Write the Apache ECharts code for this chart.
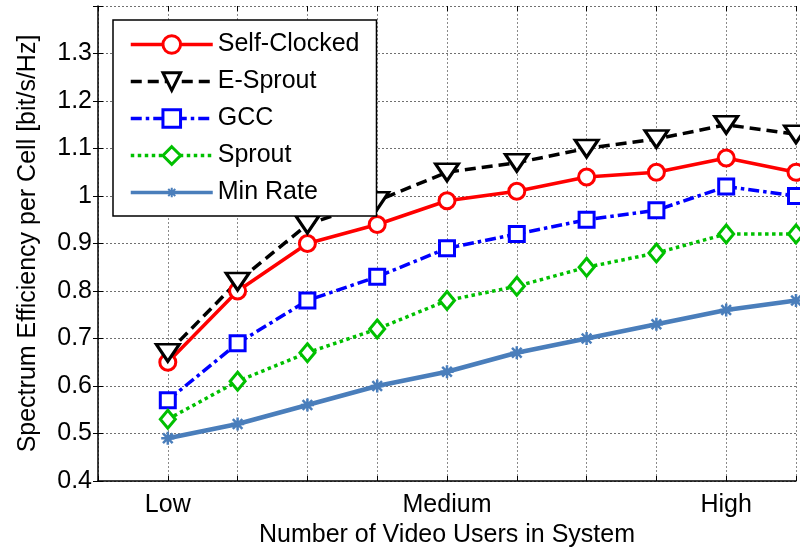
<!DOCTYPE html>
<html>
<head>
<meta charset="utf-8">
<script src="https://cdn.jsdelivr.net/npm/echarts@6/dist/echarts.min.js"></script>
<style>
  html, body { margin: 0; padding: 0; background: #fff; }
  #chart { width: 800px; height: 554px; }
</style>
</head>
<body>
<div id="chart"></div>
<script>
// Load levels on the x axis (positions 1..10)
const xPositions = [1, 2, 3, 4, 5, 6, 7, 8, 9, 10];
// Named tick labels along the x axis
const xTickValues = [1, 5, 9];
const xTickNames = ['Low', 'Medium', 'High'];
// Y tick labels from 0.4 up to 1.3
const yTickLabels = ['0.4', '0.5', '0.6', '0.7', '0.8', '0.9', '1', '1.1', '1.2', '1.3'];

// Spectrum efficiency per cell [bit/s/Hz]
const seriesNames = ['Self-Clocked', 'E-Sprout', 'GCC', 'Sprout', 'Min Rate'];
const selfClocked = [0.65, 0.80, 0.90, 0.94, 0.99, 1.01, 1.04, 1.05, 1.08, 1.05];
const eSprout     = [0.67, 0.82, 0.94, 0.99, 1.05, 1.07, 1.10, 1.12, 1.15, 1.13];
const gcc         = [0.57, 0.69, 0.78, 0.83, 0.89, 0.92, 0.95, 0.97, 1.02, 1.00];
const sprout      = [0.53, 0.61, 0.67, 0.72, 0.78, 0.81, 0.85, 0.88, 0.92, 0.92];
const minRate     = [0.49, 0.52, 0.56, 0.60, 0.63, 0.67, 0.70, 0.73, 0.76, 0.78];

const FONT = "'Liberation Sans', Arial, Helvetica, sans-serif";

function pairs(values) {
  return values.map((v, i) => [xPositions[i], v]);
}

// Marker shapes: downward triangle and a small asterisk (padded so it stays small)
const triDown = 'path://M0,0L24,0L12,19Z';
const asterisk = 'path://M0,0M20,20M10,4.5L10,15.5M4.5,10L15.5,10M6,6L14,14M6,14L14,6';

function lineSeries(name, values, color, dash, symbol, size, lineWidth) {
  return {
    name: name,
    type: 'line',
    data: pairs(values),
    symbol: symbol,
    symbolSize: size,
    showAllSymbol: true,
    lineStyle: { color: color, width: lineWidth, type: dash },
    itemStyle: { color: '#fff', borderColor: color, borderWidth: 3 },
    emphasis: { disabled: true },
    z: 2
  };
}

const series = [
  lineSeries(seriesNames[0], selfClocked, '#ff0000', 'solid', 'circle', 16, 3.5),
  lineSeries(seriesNames[1], eSprout, '#000000', [11, 6], triDown, [23, 17], 3.5),
  lineSeries(seriesNames[2], gcc, '#0000ff', [11, 4, 3.5, 4], 'rect', 15, 3.5),
  lineSeries(seriesNames[3], sprout, '#00c000', [3.5, 3.5], 'diamond', [15, 18], 3.5),
  lineSeries(seriesNames[4], minRate, '#4a7ebb', 'solid', asterisk, 24, 4.5)
];
// The asterisk is drawn as strokes in the line colour
series[4].itemStyle = { color: '#4a7ebb', borderColor: '#4a7ebb', borderWidth: 2.5 };

// Legend entries; the asterisk keeps thin strokes so it stays readable
const legendData = seriesNames.map(function (n, i) {
  return i === 4 ? { name: n, itemStyle: { borderWidth: 2 } } : n;
});

const tickStyle = { show: true, inside: true, length: 5, lineStyle: { color: '#000', width: 1 } };

const option = {
  animation: false,
  backgroundColor: '#fff',
  textStyle: { fontFamily: FONT, color: '#000' },
  grid: { left: 98, right: 4, top: 6, bottom: 73, containLabel: false },
  legend: {
    orient: 'vertical',
    left: 113,
    top: 20,
    itemWidth: 82,
    itemHeight: 22,
    itemGap: 12,
    padding: [12, 17, 11, 16],
    backgroundColor: '#fff',
    borderColor: '#000',
    borderWidth: 1.5,
    selectedMode: false,
    lineStyle: { width: 3.5 },
    itemStyle: { borderWidth: 3 },
    textStyle: { fontSize: 25, color: '#000', fontFamily: FONT },
    data: legendData
  },
  xAxis: [
    {
      type: 'value',
      position: 'bottom',
      min: 0, max: 10, interval: 1,
      axisLine: { show: true, lineStyle: { color: '#000', width: 1.5 } },
      axisTick: tickStyle,
      axisLabel: {
        fontSize: 25, color: '#000', margin: 12, fontFamily: FONT,
        formatter: function (v) {
          const k = xTickValues.indexOf(Math.round(v));
          return k >= 0 ? xTickNames[k] : '';
        }
      },
      splitLine: { show: true, lineStyle: { color: '#8a8a8a', width: 1, type: [2, 2] } },
      name: 'Number of Video Users in System',
      nameLocation: 'middle',
      nameGap: 38,
      nameTextStyle: { fontSize: 25, color: '#000', fontFamily: FONT }
    },
    {
      type: 'value',
      position: 'top',
      min: 0, max: 10, interval: 1,
      axisLine: { show: false },
      axisTick: tickStyle,
      axisLabel: { show: false },
      splitLine: { show: false }
    }
  ],
  yAxis: [
    {
      type: 'value',
      position: 'left',
      min: 0.4, max: 1.4, interval: 0.1,
      axisLine: { show: true, lineStyle: { color: '#000', width: 1.5 } },
      axisTick: tickStyle,
      axisLabel: {
        fontSize: 25, color: '#000', margin: 6, fontFamily: FONT,
        formatter: function (v) {
          const k = Math.round((v - 0.4) / 0.1);
          return k >= 0 && k < yTickLabels.length ? yTickLabels[k] : '';
        }
      },
      splitLine: { show: true, lineStyle: { color: '#707070', width: 1, type: [2, 2] } },
      name: 'Spectrum Efficiency per Cell [bit/s/Hz]',
      nameLocation: 'middle',
      nameGap: 57,
      nameRotate: 90,
      nameTextStyle: { fontSize: 25, color: '#000', fontFamily: FONT }
    },
    {
      type: 'value',
      position: 'right',
      min: 0.4, max: 1.4, interval: 0.1,
      axisLine: { show: false },
      axisTick: tickStyle,
      axisLabel: { show: false },
      splitLine: { show: false }
    }
  ],
  series: series
};

const chart = echarts.init(document.getElementById('chart'), null, { renderer: 'canvas' });
chart.setOption(option);
</script>
</body>
</html>
